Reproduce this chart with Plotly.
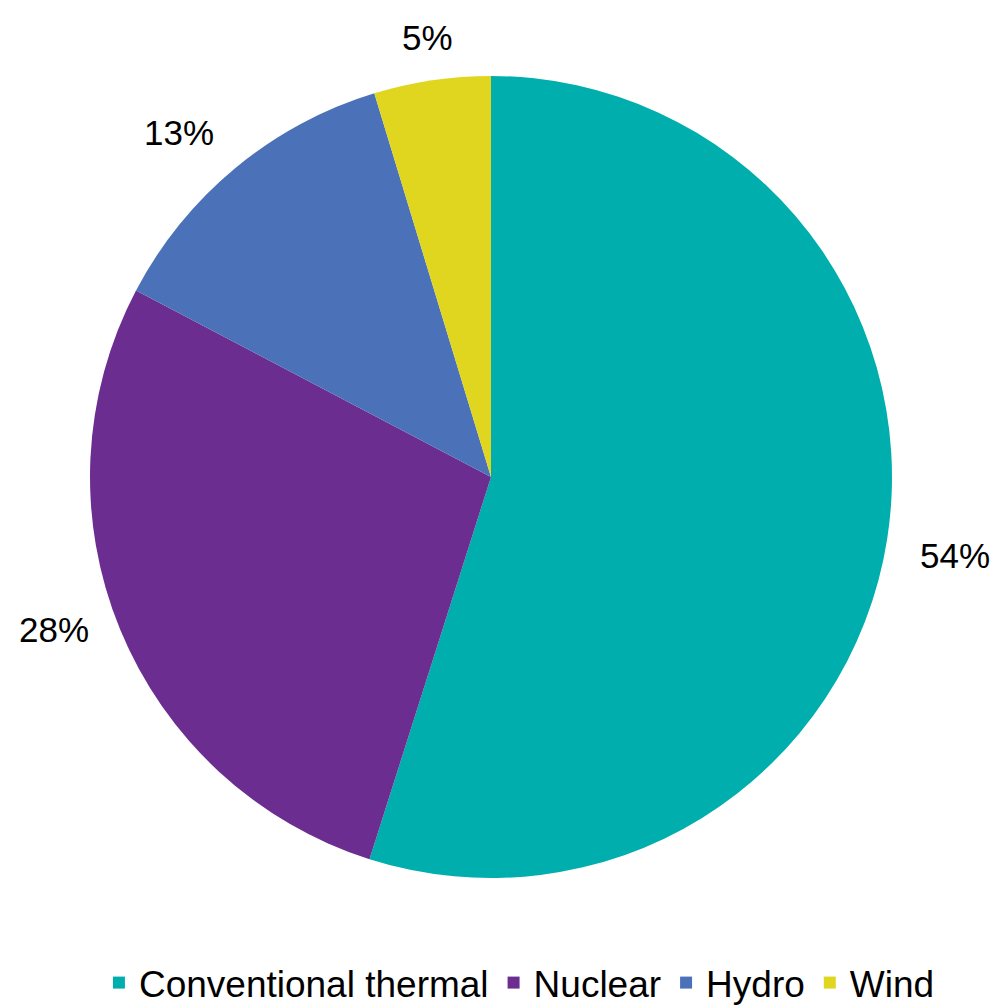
import math
import plotly.graph_objects as go

categories = ["Conventional thermal", "Nuclear", "Hydro", "Wind"]
shares = [54.9, 27.8, 12.6, 4.7]
share_labels = ["54%", "28%", "13%", "5%"]
colors = ["#00AEAE", "#6B2D8F", "#4B72B8", "#E0D620"]

W, H = 997, 1005
cx, cy, r = 491, 477, 401
label_r = 432
FONT = "Liberation Sans, Arial, sans-serif"

fig = go.Figure(go.Pie(
    labels=categories,
    values=shares,
    textinfo="none",
    marker=dict(colors=colors, line=dict(width=0)),
    sort=False,
    direction="clockwise",
    rotation=0,
    hoverinfo="label+percent",
    domain=dict(x=[(cx - r) / W, (cx + r) / W], y=[1 - (cy + r) / H, 1 - (cy - r) / H]),
))

# percentage labels placed just outside each slice's mid-angle
total = sum(shares)
cum = 0.0
for v, t in zip(shares, share_labels):
    mid = (cum + v / 2) / total * 2 * math.pi
    cum += v
    s, c = math.sin(mid), math.cos(mid)
    px = cx + label_r * s
    py = cy - label_r * c
    if s > 0.3:
        xa = "left"
    elif s < -0.3:
        xa = "right"
    else:
        xa = "center"
    ys = -12 if s > 0 else 12
    fig.add_annotation(
        x=px / W, y=1 - py / H, xref="paper", yref="paper",
        text=t, showarrow=False, xanchor=xa, yanchor="middle", yshift=ys,
        font=dict(family=FONT, size=35, color="#000000"),
    )

fig.update_layout(
    width=W, height=H,
    margin=dict(l=0, r=0, t=0, b=0, autoexpand=False),
    paper_bgcolor="white",
    plot_bgcolor="white",
    showlegend=True,
    legend=dict(
        orientation="h",
        x=0.521, xanchor="center",
        y=-0.009, yanchor="bottom",
        font=dict(family=FONT, size=37, color="#000000"),
        tracegroupgap=0,
    ),
)

fig.write_html("out.html")
